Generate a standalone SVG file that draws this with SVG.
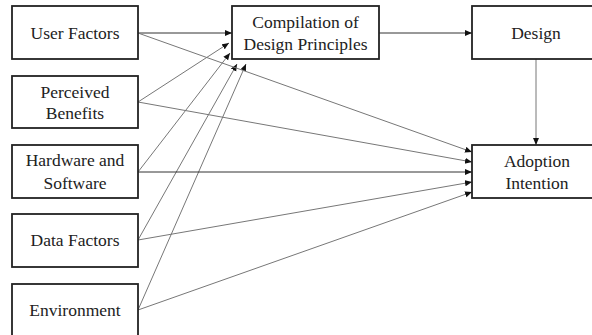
<svg xmlns="http://www.w3.org/2000/svg" width="592" height="335" viewBox="0 0 592 335">
<style>
.box{fill:#fff;stroke:#222;stroke-width:1.8}
.t{font-family:"Times New Roman","Liberation Serif",Tinos,serif;font-size:17.5px;fill:#222;text-anchor:middle}
.c{fill:none;stroke:#777;stroke-width:1}
.k{fill:none;stroke:#333;stroke-width:1}
</style>
<defs>
<marker id="ah" markerUnits="userSpaceOnUse" markerWidth="8" markerHeight="7" refX="7" refY="3" orient="auto">
<path d="M0,0 L7,3 L0,6 z" fill="#111"/>
</marker>
</defs>
<rect width="592" height="335" fill="#fff"/>
<g id="connectors">
<line class="k" x1="138" y1="33" x2="232" y2="33" marker-end="url(#ah)"/>
<line class="c" x1="138" y1="102" x2="229" y2="43" marker-end="url(#ah)"/>
<line class="c" x1="138" y1="172" x2="230" y2="53" marker-end="url(#ah)"/>
<line class="c" x1="138" y1="240" x2="237" y2="64" marker-end="url(#ah)"/>
<line class="c" x1="138" y1="310" x2="246" y2="64" marker-end="url(#ah)"/>
<line class="c" x1="138" y1="33" x2="472" y2="152" marker-end="url(#ah)"/>
<line class="c" x1="138" y1="102" x2="472" y2="162" marker-end="url(#ah)"/>
<line class="k" x1="138" y1="172" x2="472" y2="172" marker-end="url(#ah)"/>
<line class="c" x1="138" y1="240" x2="472" y2="182" marker-end="url(#ah)"/>
<line class="c" x1="138" y1="310" x2="472" y2="192" marker-end="url(#ah)"/>
<line class="k" x1="379" y1="33" x2="472" y2="33" marker-end="url(#ah)"/>
<line class="c" x1="536" y1="59" x2="536" y2="145" marker-end="url(#ah)"/>
</g>
<g id="user-factors"><rect class="box" x="12" y="6" width="126" height="53"/><text class="t" x="75" y="39">User Factors</text></g>
<g id="perceived-benefits"><rect class="box" x="12" y="76" width="126" height="52"/><text class="t" x="75" y="98">Perceived</text><text class="t" x="75" y="119">Benefits</text></g>
<g id="hardware-software"><rect class="box" x="12" y="145" width="126" height="53"/><text class="t" x="75" y="166">Hardware and</text><text class="t" x="75" y="189">Software</text></g>
<g id="data-factors"><rect class="box" x="12" y="214" width="126" height="53"/><text class="t" x="75" y="246">Data Factors</text></g>
<g id="environment"><rect class="box" x="12" y="284" width="126" height="55"/><text class="t" x="75" y="316">Environment</text></g>
<g id="compilation"><rect class="box" x="232" y="6" width="147" height="53"/><text class="t" x="305.5" y="28">Compilation of</text><text class="t" x="305.5" y="50">Design Principles</text></g>
<g id="design"><rect class="box" x="472" y="6" width="130" height="53"/><text class="t" x="536" y="39">Design</text></g>
<g id="adoption-intention"><rect class="box" x="472" y="145" width="130" height="53"/><text class="t" x="537" y="167">Adoption</text><text class="t" x="537" y="189">Intention</text></g>
</svg>
